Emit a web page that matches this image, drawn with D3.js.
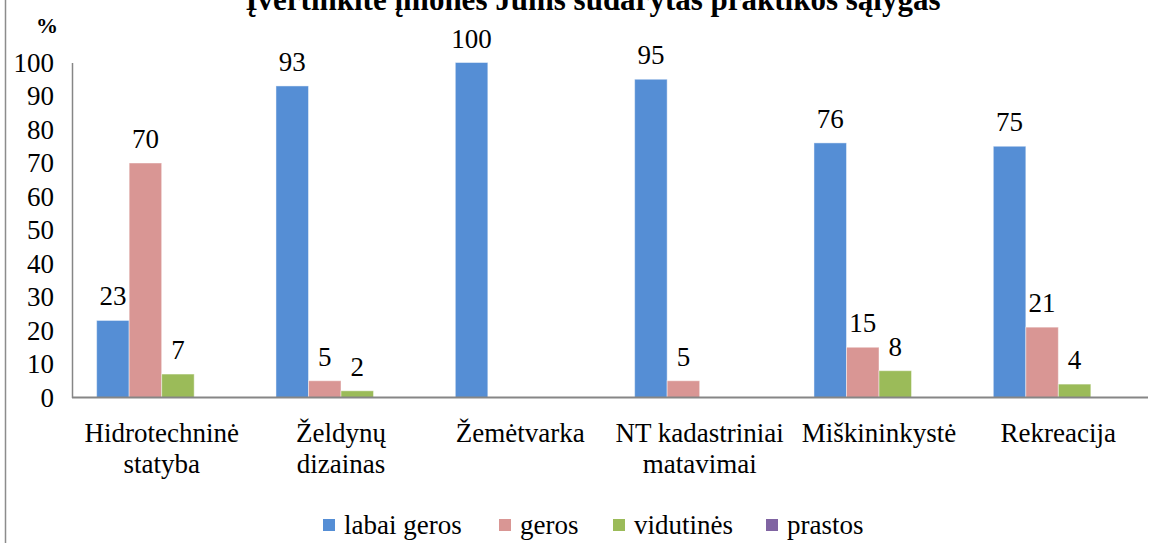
<!DOCTYPE html>
<html>
<head>
<meta charset="utf-8">
<script src="https://cdn.jsdelivr.net/npm/d3@7"></script>
<style>
  body { margin: 0; background: #fff; }
  svg text { font-family: 'Liberation Serif', 'Times New Roman', serif; }
</style>
</head>
<body>
<div id="chart"></div>
<script>
// ====================== data ===============
const categories = [
    ['Hidrotechninė', 'statyba'],
    ['Želdynų', 'dizainas'],
    ['Žemėtvarka'],
    ['NT kadastriniai', 'matavimai'],
    ['Miškininkystė'],
    ['Rekreacija']
];
const seriesNames = ['labai geros', 'geros', 'vidutinės', 'prastos'];
const labaiGeros = [23, 93, 100, 95, 76, 75];
const geros = [70, 5, 0, 5, 15, 21];
const vidutines = [7, 2, 0, 0, 8, 4];
const prastos = [0, 0, 0, 0, 0, 0];
const yTicks = [0, 10, 20, 30, 40, 50, 60, 70, 80, 90, 100];
const colors = ['#558ed5', '#d99694', '#9bbb59', '#8064a2'];
const title = 'Įvertinkite įmonės Jums sudarytas praktikos sąlygas';

const seriesValues = [labaiGeros, geros, vidutines, prastos];
const catKeys = categories.map(c => c.join(' '));

const width = 1152, height = 543;
const margin = { top: 62.5, right: 4, bottom: 145.5, left: 72 };
const fontSize = '27px';

const svg = d3.select('#chart')
    .append('svg')
    .attr('width', width)
    .attr('height', height);

// outer chart border (only the left edge is visible)
svg.append('line')
    .attr('x1', 5.5).attr('x2', 5.5)
    .attr('y1', 0).attr('y2', height)
    .style('stroke', '#8c8c8c')
    .style('stroke-width', 1.5);

const x = d3.scaleBand()
    .domain(catKeys)
    .range([margin.left, width - margin.right]);

const xs = d3.scaleBand()
    .domain(seriesNames)
    .range([0, x.bandwidth()])
    .paddingOuter(0.758);

const y = d3.scaleLinear()
    .domain([0, 100])
    .range([height - margin.bottom, margin.top]);

// bars
seriesNames.forEach((name, si) => {
    const rows = seriesValues[si].map((v, i) => ({ v, cat: catKeys[i] }));
    const g = svg.append('g');
    g.selectAll('rect')
        .data(rows)
        .enter()
        .append('rect')
        .attr('x', d => x(d.cat) + xs(name))
        .attr('y', d => y(d.v))
        .attr('width', xs.bandwidth())
        .attr('height', d => y(0) - y(d.v))
        .style('fill', colors[si])
        .style('stroke', d => d.v > 0 ? 'rgba(255,255,255,0.45)' : 'none')
        .style('stroke-width', 1);

    // value labels, only for non-zero values
    g.selectAll('text')
        .data(rows.filter(d => d.v > 0))
        .enter()
        .append('text')
        .attr('x', d => x(d.cat) + xs(name) + xs.bandwidth() / 2)
        .attr('y', d => y(d.v) - 15)
        .attr('text-anchor', 'middle')
        .attr('font-size', fontSize)
        .text(d => d.v);
});

// y axis
const yAxis = svg.append('g')
    .attr('transform', `translate(${margin.left},0)`)
    .call(d3.axisLeft(y).tickValues(yTicks).tickSize(0).tickPadding(18));
yAxis.attr('font-size', fontSize);
yAxis.select('.domain').style('stroke', '#868686').style('stroke-width', 1.5);
yAxis.selectAll('text').style('fill', '#000');

// x axis baseline
svg.append('line')
    .attr('x1', margin.left)
    .attr('x2', width - margin.right)
    .attr('y1', y(0))
    .attr('y2', y(0))
    .style('stroke', '#868686')
    .style('stroke-width', 2);

// category labels
svg.append('g')
    .selectAll('text')
    .data(categories)
    .enter()
    .append('text')
    .attr('x', (d, i) => x(catKeys[i]) + x.bandwidth() / 2)
    .attr('y', 442)
    .attr('text-anchor', 'middle')
    .attr('font-size', fontSize)
    .each(function (d) {
        const t = d3.select(this);
        d.forEach((line, li) => {
            t.append('tspan')
                .attr('x', t.attr('x'))
                .attr('dy', li === 0 ? 0 : 31)
                .text(line);
        });
    });

// title (cut off at the top, as in the original)
svg.append('text')
    .attr('x', 593)
    .attr('y', 10)
    .attr('text-anchor', 'middle')
    .attr('font-size', '31px')
    .attr('font-weight', 'bold')
    .text(title);

// axis unit
svg.append('text')
    .attr('x', 47)
    .attr('y', 33)
    .attr('text-anchor', 'middle')
    .attr('font-size', '22px')
    .attr('font-weight', 'bold')
    .text('%');

// legend
const legendX = [323, 499, 613, 766];
const legend = svg.append('g')
    .selectAll('g')
    .data(seriesNames)
    .enter()
    .append('g')
    .attr('transform', (d, i) => `translate(${legendX[i]},525)`);
legend.append('rect')
    .attr('x', 0).attr('y', -6)
    .attr('width', 12).attr('height', 12)
    .style('fill', (d, i) => colors[i]);
legend.append('text')
    .attr('x', 21)
    .attr('y', 9)
    .attr('font-size', fontSize)
    .text(d => d);
</script>
</body>
</html>
